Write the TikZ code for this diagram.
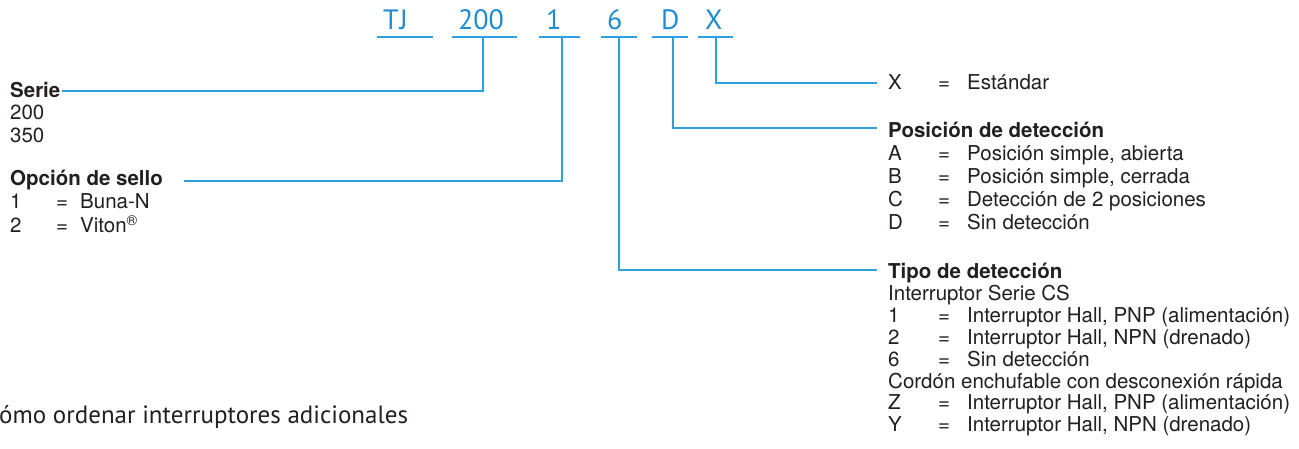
\documentclass[tikz,border=0pt]{standalone}
\usepackage{fontspec}
\setmainfont{TeX Gyre Heros}
\newfontfamily\codefont{PT Sans}
\usepackage{array}
\usetikzlibrary{calc}
\definecolor{lineblue}{RGB}{45,160,222}
\definecolor{codeblue}{RGB}{30,140,210}
\definecolor{txt}{RGB}{35,31,32}
\newcommand{\lstL}[1]{\begin{tabular}[t]{@{}p{46pt}@{}p{24pt}@{}l@{}}#1\end{tabular}}
\newcommand{\lstR}[1]{\begin{tabular}[t]{@{}p{50pt}@{}p{29pt}@{}l@{}}#1\end{tabular}}
\begin{document}
\begin{tikzpicture}[x=1pt,y=-1pt,
  codetxt/.style={font=\codefont\fontsize{28}{32}\selectfont, text=codeblue, anchor=base west, inner sep=0pt},
  uline/.style={draw=lineblue, line width=1.4pt},
  conn/.style={draw=lineblue, line width=1.4pt},
  lab/.style={font=\fontsize{20.5}{22.5}\selectfont, text=txt, anchor=base west, inner sep=0pt, align=left},
  labP/.style={lab, font=\fontsize{20.5}{23}\selectfont},
  labT/.style={lab, font=\fontsize{20.5}{21.8}\selectfont},
  head/.style={lab, font=\fontsize{20.5}{22.5}\selectfont\bfseries}]
\useasboundingbox (0,0) rectangle (1299,449);
\fill[white] (0,0) rectangle (1299,449);

% code letters
\node[codetxt] (cTJ) at (383,30) {T\kern1ptJ};
\node[codetxt] (c200) at (458,30) {200};
\node[codetxt] (c1) at (546,30) {1};
\node[codetxt] (c6) at (607,30) {6};
\node[codetxt] (cD) at (661,30) {D};
\node[codetxt] (cX) at (705,30) {X};

% underline end points
\coordinate (uTJa) at (377,37); \coordinate (uTJb) at (433,37);
\coordinate (u200a) at (452,37); \coordinate (u200b) at (517,37);
\coordinate (u1a) at (539,37); \coordinate (u1b) at (580,37);
\coordinate (u6a) at (601,37); \coordinate (u6b) at (637,37);
\coordinate (uDa) at (652,37); \coordinate (uDb) at (688,37);
\coordinate (uXa) at (698,37); \coordinate (uXb) at (733,37);
\foreach \k in {TJ,200,1,6,D,X}{\draw[uline] (u\k a) -- (u\k b);}

% connector drop points
\coordinate (d200) at (483,37);
\coordinate (d1) at (562,37);
\coordinate (d6) at (619,37);
\coordinate (dD) at (673,37);
\coordinate (dX) at (716,37);

% left column
\node[head] (tSerie) at (10,98) {Serie};
\node[lab] (lSerie) at (10,120) {\lstL{200\\350}};
\node[head] (tOpc) at (10,186) {Opción de sello};
\node[lab] (lOpc) at (10,208.5) {\lstL{1&=&Buna-N\\2&=&Viton\textsuperscript{®}}};

% right column
\node[lab] (rX) at (888,90) {\lstR{X&=&Estándar}};
\node[head] (tPos) at (888,138) {Posición de detección};
\node[labP] (lPos) at (888,161) {\lstR{A&=&Posición simple, abierta\\B&=&Posición simple, cerrada\\C&=&Detección de 2 posiciones\\D&=&Sin detección}};
\node[head] (tTipo) at (888,279) {Tipo de detección};
\node[labT] (lTipo) at (888,300.8) {\lstR{\multicolumn{3}{@{}l@{}}{Interruptor Serie CS}\\1&=&Interruptor Hall, PNP (alimentación)\\2&=&Interruptor Hall, NPN (drenado)\\6&=&Sin detección\\\multicolumn{3}{@{}l@{}}{Cordón enchufable con desconexión rápida}\\Z&=&Interruptor Hall, PNP (alimentación)\\Y&=&Interruptor Hall, NPN (drenado)}};

% bottom text
\node[font=\codefont\fontsize{25}{29}\selectfont, text=txt, anchor=base west, inner sep=0pt] (bottom) at (-1,423) {ómo ordenar interruptores adicionales};

% connector ends
\coordinate (eSerie) at ($(tSerie.base east)+(1,-7)$);
\coordinate (eOpc) at ($(tOpc.base east)+(21,-5)$);
\coordinate (eX) at ($(rX.base west)+(-11,-7)$);
\coordinate (ePos) at ($(tPos.base west)+(-11,-10)$);
\coordinate (eTipo) at ($(tTipo.base west)+(-11,-9)$);
\draw[conn] (d200) |- (eSerie);
\draw[conn] (d1) |- (eOpc);
\draw[conn] (dX) |- (eX);
\draw[conn] (dD) |- (ePos);
\draw[conn] (d6) |- (eTipo);
\end{tikzpicture}
\end{document}
